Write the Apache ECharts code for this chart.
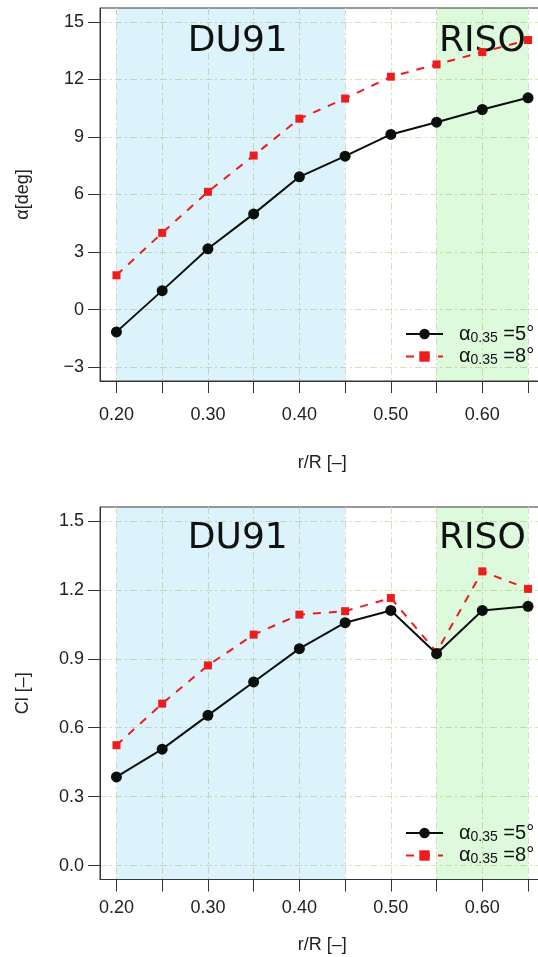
<!DOCTYPE html>
<html><head><meta charset="utf-8">
<script src="https://cdn.jsdelivr.net/npm/echarts@6/dist/echarts.min.js"></script>
<style>html,body{margin:0;padding:0;background:#fff}#c{width:538px;height:957px}</style>
</head><body><div id="c"></div>
<script>
const rR = [0.20, 0.25, 0.30, 0.35, 0.40, 0.45, 0.50, 0.55, 0.60, 0.65];
const alpha5 = [-1.16, 0.99, 3.17, 4.99, 6.92, 8.00, 9.13, 9.77, 10.43, 11.04];
const alpha8 = [1.79, 4.00, 6.14, 8.03, 9.95, 11.00, 12.14, 12.78, 13.42, 14.05];
const cl5 = [0.386, 0.507, 0.654, 0.799, 0.944, 1.057, 1.110, 0.922, 1.110, 1.128];
const cl8 = [0.524, 0.705, 0.871, 1.005, 1.092, 1.107, 1.164, 0.929, 1.280, 1.204];
const xTicks = [0.20, 0.25, 0.30, 0.35, 0.40, 0.45, 0.50, 0.55, 0.60, 0.65];
const xLabels = [0.20, 0.30, 0.40, 0.50, 0.60];
const alphaTicks = [-3, 0, 3, 6, 9, 12, 15];
const clTicks = [0, 0.3, 0.6, 0.9, 1.2, 1.5];
const regionNames = ['DU91', 'RISO'];
const regionStart = [0.20, 0.55];
const regionEnd = [0.45, 0.65];
const seriesNames = ['α0.35 = 5°', 'α0.35 = 8°'];

const FONT = 'Liberation Sans';
const axisCol = '#333';
const gridLine = { show: true, lineStyle: { color: '#e2ddb6', width: 1, type: [7, 3, 2, 3] } };
const regionCols = ['rgba(0,165,225,0.135)', 'rgba(0,215,0,0.135)'];
const regionLabelShift = [7, 0];

function pairs(xs, ys) { return xs.map((x, i) => [x, ys[i]]); }
function fmtMinus(s) { return String(s).replace('-', '\u2212'); }

function makeX(gi, labelMargin, nameGap) {
  return {
    type: 'value', gridIndex: gi, min: 0.182, max: 0.668,
    name: 'r/R [\u2013]', nameLocation: 'middle', nameGap: nameGap,
    nameTextStyle: { fontFamily: FONT, fontSize: 18, color: '#222' },
    axisLine: { show: true, onZero: false, lineStyle: { color: axisCol, width: 1 } },
    axisTick: { show: true, customValues: xTicks, length: 12, lineStyle: { color: axisCol, width: 1 } },
    axisLabel: { customValues: xLabels, margin: labelMargin, fontFamily: FONT, fontSize: 18, color: '#222',
      formatter: v => v.toFixed(2) },
    splitLine: gridLine
  };
}
function makeY(gi, min, max, ticks, name, dec) {
  return {
    type: 'value', gridIndex: gi, min: min, max: max,
    name: name, nameLocation: 'middle', nameGap: 68,
    nameTextStyle: { fontFamily: FONT, fontSize: 18, color: '#222' },
    axisLine: { show: true, onZero: false, lineStyle: { color: axisCol, width: 1 } },
    axisTick: { show: true, customValues: ticks, length: 12, lineStyle: { color: axisCol, width: 1 } },
    axisLabel: { customValues: ticks, margin: 16, fontFamily: FONT, fontSize: 18, color: '#222',
      formatter: v => fmtMinus(v.toFixed(dec)) },
    splitLine: gridLine
  };
}
function regionArea(dist) {
  return {
    silent: true,
    label: { show: true, position: 'insideTop', distance: dist, fontFamily: 'DejaVu Sans', fontSize: 36, color: '#111' },
    data: regionNames.map((n, i) => [
      { name: n, xAxis: regionStart[i], itemStyle: { color: regionCols[i] }, label: { offset: [regionLabelShift[i], 0] } },
      { xAxis: regionEnd[i] }
    ])
  };
}
function lineSeries(name, gi, ys, which, areaDist) {
  const s = {
    name: name, type: 'line', xAxisIndex: gi, yAxisIndex: gi,
    data: pairs(rR, ys), z: which === 0 ? 4 : 3
  };
  if (which === 0) {
    s.symbol = 'circle'; s.symbolSize = 11;
    s.itemStyle = { color: '#0b0f0b' };
    s.lineStyle = { color: '#0b0f0b', width: 2 };
  } else {
    s.symbol = 'rect'; s.symbolSize = 8;
    s.itemStyle = { color: '#ee1c1c' };
    s.lineStyle = { color: '#ee1c1c', width: 2, type: [8, 8] };
  }
  if (areaDist != null) s.markArea = regionArea(areaDist);
  return s;
}
function legendFmt(name) {
  const rest = name.split('0.35')[1].replace(' = ', ' =');
  return '{sp|}{a|\u03b1}{s|0.35}{a|' + rest + '}';
}
function makeLegend(top) {
  return {
    orient: 'vertical', left: 405, top: top, padding: 0, itemWidth: 37, itemHeight: 13, itemGap: 1.5,
    data: seriesNames, formatter: legendFmt,
    textStyle: {
      rich: {
        sp: { width: 11, lineHeight: 22 },
        a: { fontFamily: FONT, fontSize: 20, color: '#111', lineHeight: 22 },
        s: { fontFamily: FONT, fontSize: 14, color: '#111', lineHeight: 13, verticalAlign: 'bottom' }
      }
    }
  };
}

const chart = echarts.init(document.getElementById('c'), null, { renderer: 'canvas' });
chart.setOption({
  animation: false,
  backgroundColor: '#fff',
  grid: [
    { left: 100, top: 8, width: 444.5, height: 373, show: true, borderColor: axisCol, borderWidth: 1, outerBoundsMode: 'none' },
    { left: 100, top: 507, width: 444.5, height: 372.5, show: true, borderColor: axisCol, borderWidth: 1, outerBoundsMode: 'none' }
  ],
  xAxis: [makeX(0, 25, 73), makeX(1, 20, 57)],
  yAxis: [
    makeY(0, -3.72, 15.72, alphaTicks, '\u03b1[deg]', 0),
    makeY(1, -0.06, 1.56, clTicks, 'Cl [\u2013]', 1)
  ],
  legend: [makeLegend(324), makeLegend(823)],
  series: [
    lineSeries(seriesNames[0], 0, alpha5, 0, 16),
    lineSeries(seriesNames[1], 0, alpha8, 1, null),
    lineSeries(seriesNames[0], 1, cl5, 0, 14),
    lineSeries(seriesNames[1], 1, cl8, 1, null)
  ]
});
</script></body></html>
